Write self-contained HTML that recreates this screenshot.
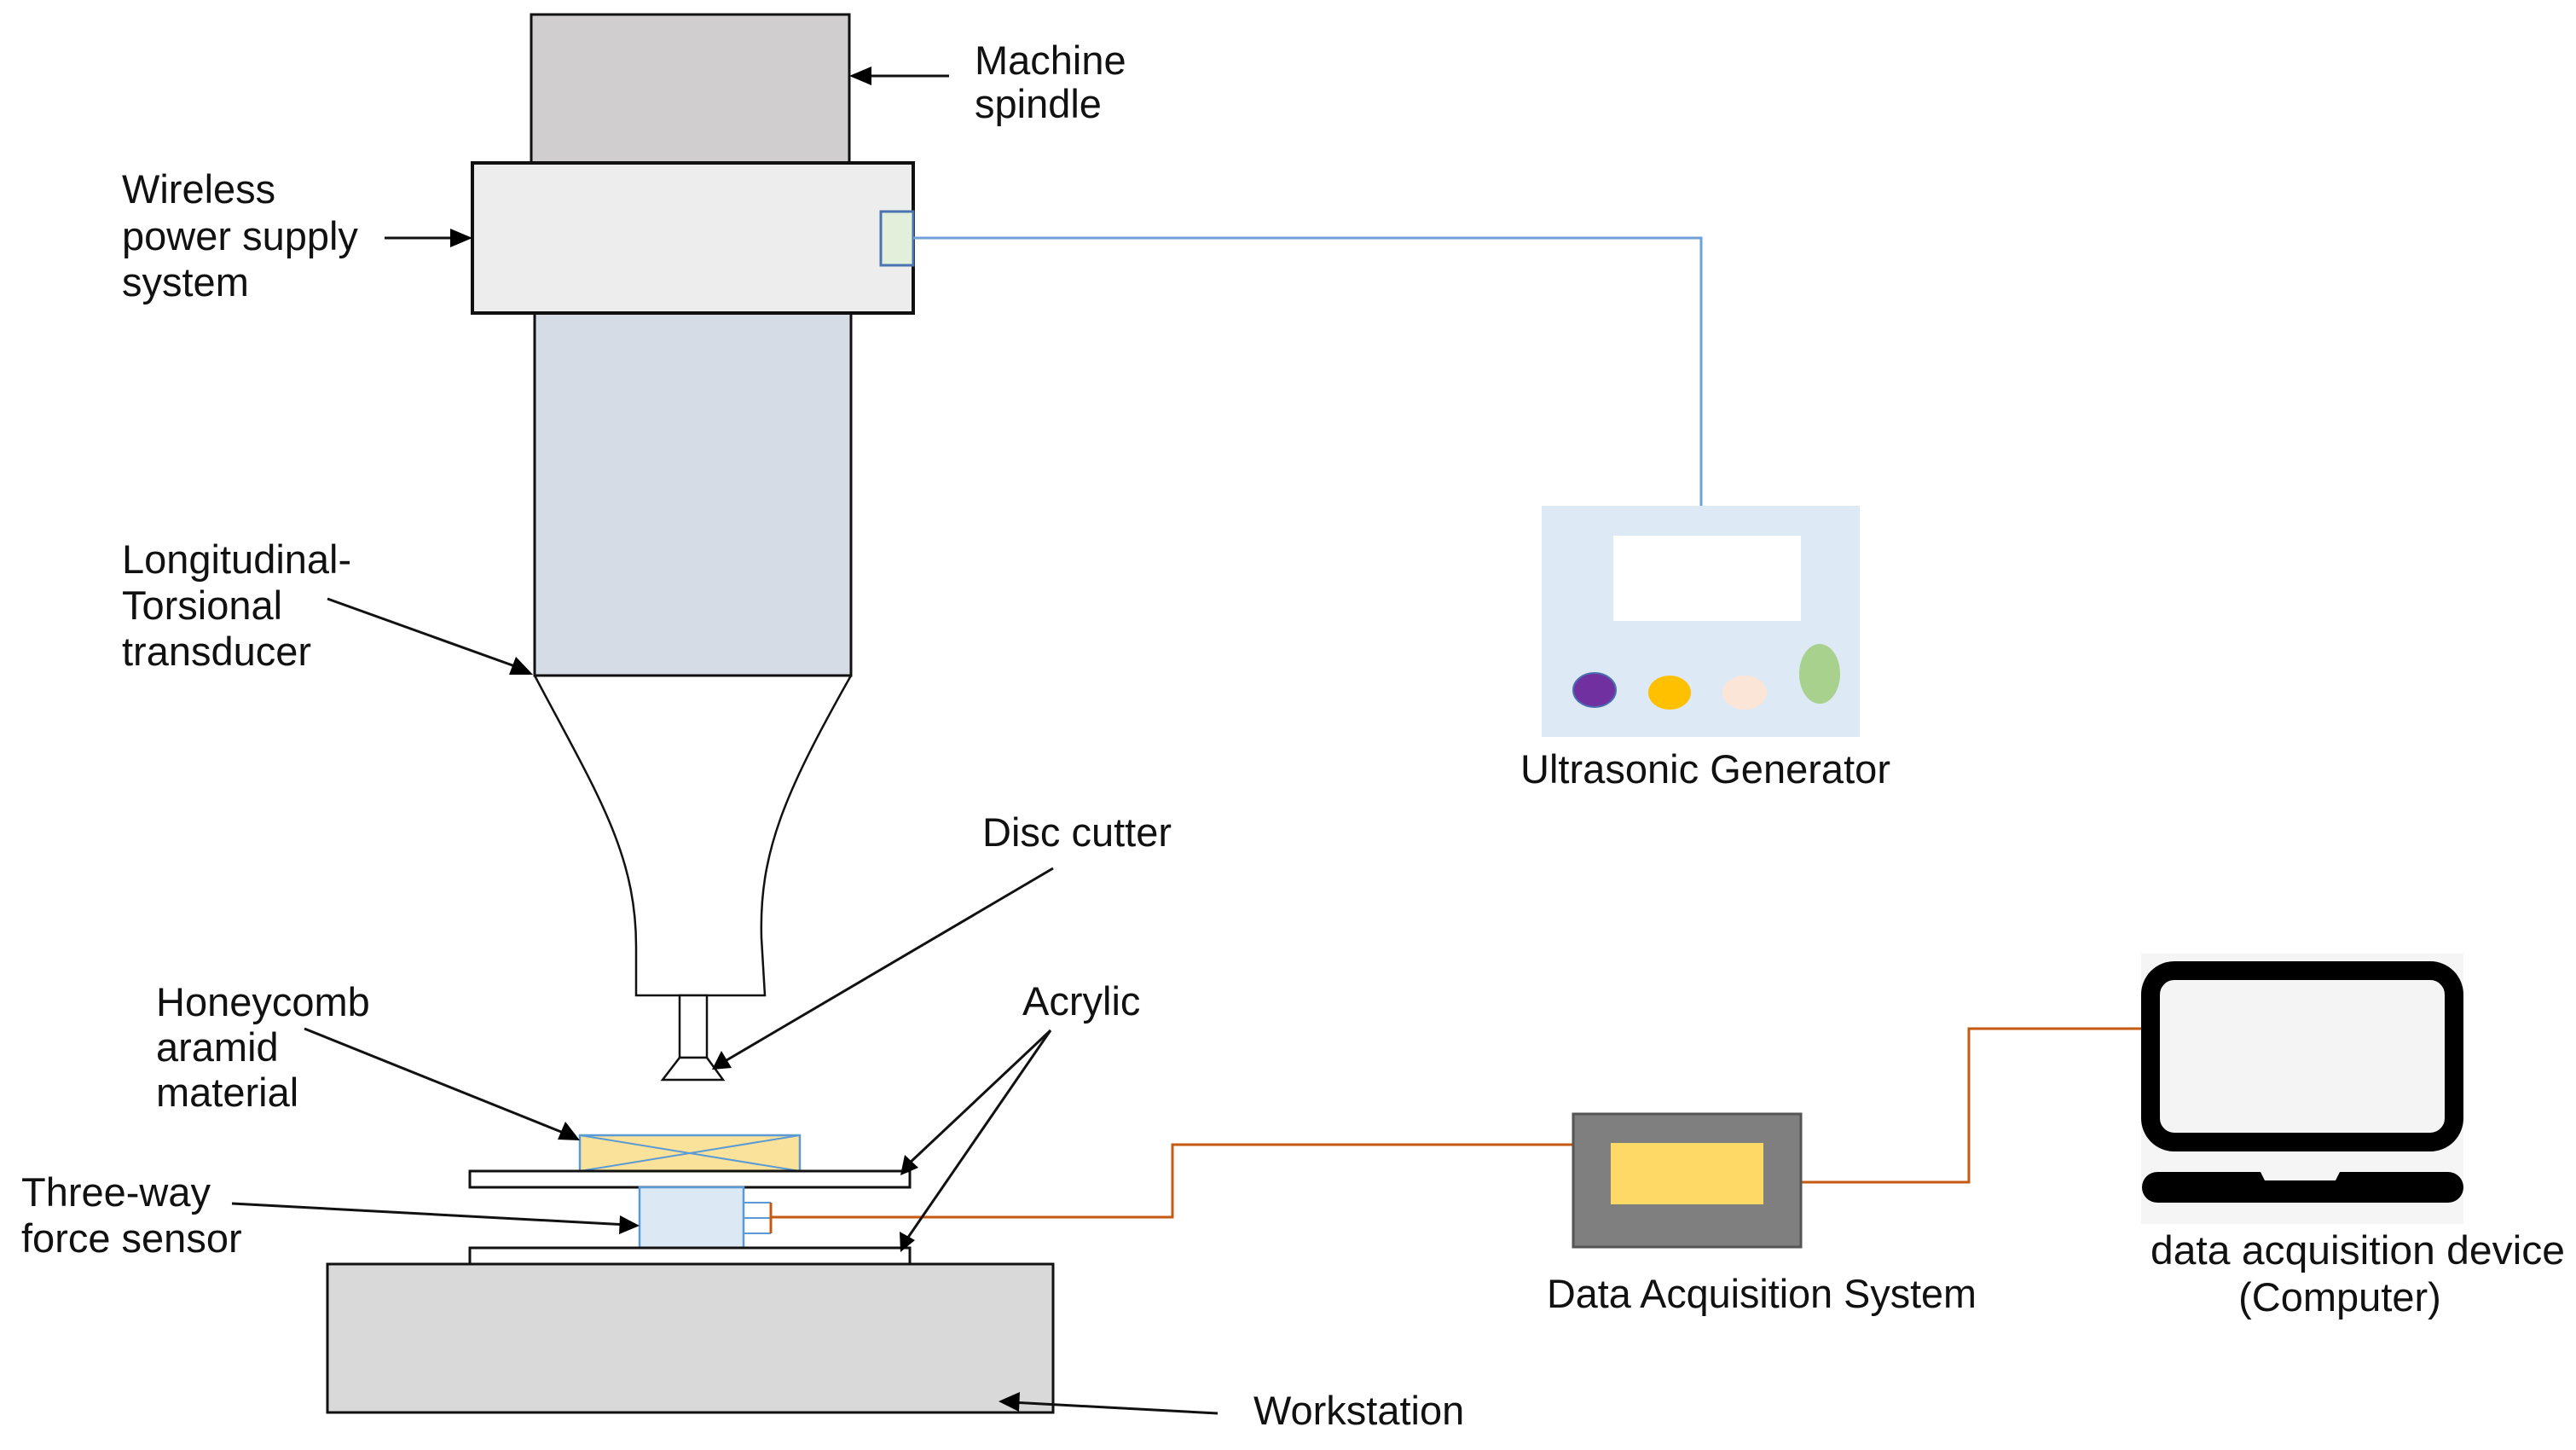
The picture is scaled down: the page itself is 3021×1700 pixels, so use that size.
<!DOCTYPE html>
<html><head><meta charset="utf-8"><style>
html,body{margin:0;padding:0;background:#fff;}
svg{display:block;}
text{font-family:"Liberation Sans",sans-serif;font-size:47px;fill:#111;}
</style></head><body>
<svg width="3021" height="1700" viewBox="0 0 3021 1700" xmlns="http://www.w3.org/2000/svg">
<!-- spindle -->
<rect x="623" y="17" width="373" height="174" fill="#d0cece" stroke="#111" stroke-width="3"/>
<!-- transducer -->
<rect x="627" y="367" width="371" height="425" fill="#d6dce5" stroke="#111" stroke-width="3"/>
<!-- wireless -->
<rect x="554" y="191" width="517" height="176" fill="#ededed" stroke="#111" stroke-width="4"/>
<rect x="1033" y="248" width="38" height="63" fill="#e2efda" stroke="#4a74b0" stroke-width="3"/>
<!-- blue line -->
<polyline points="1071,279 1995,279 1995,593" fill="none" stroke="#6fa0d8" stroke-width="3"/>
<!-- horn -->
<path d="M627 792 C700 930,746 1000,746 1110 L746 1167 L897 1167 L893 1100 C890 1000,920 930,998 792" fill="none" stroke="#111" stroke-width="2.5"/>
<!-- cutter -->
<rect x="797" y="1167" width="32" height="73" fill="#fff" stroke="#111" stroke-width="2.5"/>
<polygon points="797,1240 829,1240 848,1266 777,1266" fill="#fff" stroke="#111" stroke-width="2.5"/>
<!-- honeycomb -->
<rect x="680" y="1331" width="258" height="42" fill="#fbe29a" stroke="#5b9bd5" stroke-width="2.5"/>
<line x1="680" y1="1373" x2="938" y2="1331" stroke="#5b9bd5" stroke-width="2"/>
<line x1="680" y1="1331" x2="938" y2="1373" stroke="#5b9bd5" stroke-width="2"/>
<!-- plates -->
<rect x="551" y="1373" width="516" height="19" fill="#fff" stroke="#111" stroke-width="3"/>
<rect x="750" y="1392" width="122" height="71" fill="#dde8f5" stroke="#5b9bd5" stroke-width="2.5"/>
<g stroke="#5b9bd5" stroke-width="2"><line x1="872" y1="1410" x2="904" y2="1410"/><line x1="872" y1="1428" x2="904" y2="1428"/><line x1="872" y1="1446" x2="904" y2="1446"/></g>
<line x1="904" y1="1410" x2="904" y2="1446" stroke="#c55a11" stroke-width="3"/>
<rect x="551" y="1463" width="516" height="19" fill="#fff" stroke="#111" stroke-width="3"/>
<rect x="384" y="1482" width="851" height="174" fill="#d9d9d9" stroke="#111" stroke-width="3"/>
<!-- orange lines -->
<polyline points="904,1427 1375,1427 1375,1342 1845,1342" fill="none" stroke="#c55a11" stroke-width="3"/>
<polyline points="2112,1386 2309,1386 2309,1206 2511,1206" fill="none" stroke="#c55a11" stroke-width="3"/>
<!-- generator -->
<rect x="1808" y="593" width="373" height="271" fill="#dde9f5"/>
<rect x="1892" y="628" width="220" height="100" fill="#fff"/>
<ellipse cx="1870" cy="809" rx="25" ry="20" fill="#7030a0" stroke="#4a6fb0" stroke-width="2"/>
<ellipse cx="1958" cy="812" rx="25" ry="20" fill="#ffc000"/>
<ellipse cx="2046" cy="812" rx="26" ry="20" fill="#fbe5d6"/>
<ellipse cx="2134" cy="790" rx="24" ry="35" fill="#a9d18e"/>
<!-- DAQ -->
<rect x="1845" y="1306" width="267" height="156" fill="#7f7f7f" stroke="#555" stroke-width="3"/>
<rect x="1889" y="1340" width="179" height="72" fill="#ffd966"/>
<!-- laptop -->
<rect x="2511" y="1118" width="378" height="317" fill="#f5f5f5"/>
<rect x="2522" y="1138" width="356" height="201" rx="28" fill="#f4f4f4" stroke="#000" stroke-width="22"/>
<path d="M2530 1374 L2651 1374 L2656 1384 L2739 1384 L2744 1374 L2871 1374 A18 18 0 0 1 2871 1410 L2530 1410 A18 18 0 0 1 2530 1374 Z" fill="#000"/>
<!-- arrows -->
<g stroke="#111" stroke-width="3" fill="none">
<line x1="1113" y1="89" x2="1010" y2="89"/>
<line x1="451" y1="279" x2="540" y2="279"/>
<line x1="384" y1="702" x2="612" y2="784"/>
<line x1="1235" y1="1018" x2="847" y2="1246"/>
<line x1="357" y1="1206" x2="668" y2="1331"/>
<line x1="1232" y1="1208" x2="1064" y2="1366"/>
<line x1="1232" y1="1208" x2="1062" y2="1455"/>
<line x1="272" y1="1411" x2="736" y2="1436"/>
<line x1="1428" y1="1657" x2="1186" y2="1644"/>
</g>
<g fill="#000">
<polygon points="996,89 1022,78 1022,100"/>
<polygon points="554,279 528,268 528,290"/>
<polygon points="625,791 597,791 605,770"/>
<polygon points="835,1254 846,1232 858,1252"/>
<polygon points="680,1337 654,1336 663,1315"/>
<polygon points="1056,1378 1061,1354 1077,1369"/>
<polygon points="1056,1468 1055,1444 1073,1454"/>
<polygon points="750,1437 726,1447 727,1425"/>
<polygon points="1171,1643 1196,1632 1195,1655"/>
</g>
<!-- texts -->
<text x="1143" y="87">Machine</text>
<text x="1143" y="138">spindle</text>
<text x="143" y="238">Wireless</text>
<text x="143" y="293">power supply</text>
<text x="143" y="347">system</text>
<text x="143" y="672">Longitudinal-</text>
<text x="143" y="726">Torsional</text>
<text x="143" y="780">transducer</text>
<text x="1152" y="992">Disc cutter</text>
<text x="183" y="1191">Honeycomb</text>
<text x="183" y="1244">aramid</text>
<text x="183" y="1297">material</text>
<text x="1199" y="1190">Acrylic</text>
<text x="25" y="1414">Three-way</text>
<text x="25" y="1468">force sensor</text>
<text x="1470" y="1670">Workstation</text>
<text x="1783" y="918" textLength="434" lengthAdjust="spacingAndGlyphs">Ultrasonic Generator</text>
<text x="1814" y="1533" textLength="504" lengthAdjust="spacingAndGlyphs">Data Acquisition System</text>
<text x="2522" y="1482" textLength="486" lengthAdjust="spacingAndGlyphs">data acquisition device</text>
<text x="2744" y="1537" text-anchor="middle">(Computer)</text>
</svg>
</body></html>
